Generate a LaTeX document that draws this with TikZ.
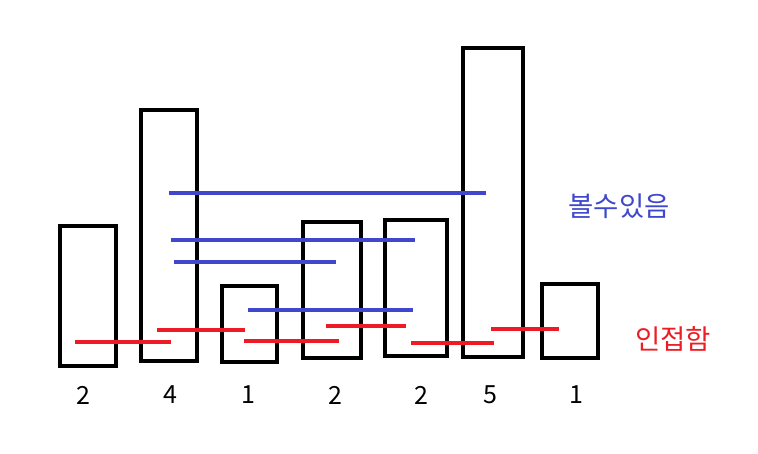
\documentclass[tikz,border=0pt]{standalone}
\usepackage{fontspec}
\setmainfont{Noto Sans CJK KR}
\definecolor{paintblue}{RGB}{63,72,204}
\definecolor{paintred}{RGB}{237,28,36}
\begin{document}
\begin{tikzpicture}[x=1pt, y=-1pt,
    bar/.style={draw, line width=4.3pt},
    seen/.style={paintblue, line width=4.2pt},
    near/.style={paintred, line width=4.2pt},
    num/.style={font=\fontsize{25}{30}\selectfont},
    legend/.style={font=\fontsize{27.5}{32}\selectfont}]
  \useasboundingbox (0,0) rectangle (758,454);

  % --- bars ---
  \draw[bar] (60,226) rectangle (116,366);
  \draw[bar] (141,110) rectangle (197,361);
  \draw[bar] (222,286) rectangle (277,362);
  \draw[bar] (303,222) rectangle (361,358);
  \draw[bar] (385,220) rectangle (447,356);
  \draw[bar] (463,48) rectangle (523,357);
  \draw[bar] (542,284) rectangle (598,358);

  % --- heights ---
  \node[num] (h1) at (83,395) {2};
  \node[num] (h2) at (170,395) {4};
  \node[num] (h3) at (248,395) {1};
  \node[num] (h4) at (335,395) {2};
  \node[num] (h5) at (421,395) {2};
  \node[num] (h6) at (490,395) {5};
  \node[num] (h7) at (576,395) {1};

  % --- visible pairs (blue) ---
  \draw[seen] (169,193) -- (486,193);
  \draw[seen] (171,240) -- (415,240);
  \draw[seen] (174,262) -- (336,262);
  \draw[seen] (248,310) -- (413,310);

  % --- adjacent pairs (red) ---
  \draw[near] (75,342) -- (171,342);
  \draw[near] (157,330) -- (245,330);
  \draw[near] (244,341) -- (339,341);
  \draw[near] (326,326) -- (406,326);
  \draw[near] (411,343) -- (494,343);
  \draw[near] (491,329) -- (559,329);

  % --- legend ---
  \node[legend, text=paintblue] (seenlabel) at (619,206) {볼수있음};
  \node[legend, text=paintred] (nearlabel) at (673,339) {인접함};

\end{tikzpicture}
\end{document}
